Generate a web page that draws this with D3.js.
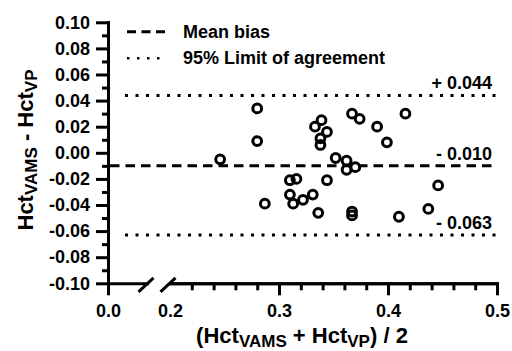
<!DOCTYPE html>
<html>
<head>
<meta charset="utf-8">
<script src="https://cdn.jsdelivr.net/npm/d3@7"></script>
<style>
    body { margin: 0; background: #fff; }
    text { font-family: "Liberation Sans", Arial, sans-serif; font-weight: bold; fill: #000; }
</style>
</head>
<body>
<div id="chart"></div>
<script>
"use strict";

// mean of the two methods (x) and their difference (y)
const meanHct = [0.246, 0.280, 0.280, 0.287, 0.339, 0.333, 0.344, 0.338, 0.338,
    0.367, 0.374, 0.390, 0.399, 0.416, 0.352, 0.362, 0.362, 0.370,
    0.310, 0.316, 0.344, 0.310, 0.313, 0.322, 0.331, 0.336, 0.367, 0.367,
    0.446, 0.437, 0.410];
const diffHct = [-0.005, 0.034, 0.009, -0.039, 0.025, 0.020, 0.016, 0.011, 0.006,
    0.030, 0.026, 0.020, 0.008, 0.030, -0.004, -0.006, -0.013, -0.011,
    -0.021, -0.020, -0.021, -0.032, -0.039, -0.036, -0.032, -0.046, -0.045, -0.048,
    -0.025, -0.043, -0.049];

// bias and limits of agreement
const limitValues = [0.044, -0.010, -0.063];
const limitLabels = ["+ 0.044", "- 0.010", "- 0.063"];
const limitStyles = ["dot", "dash", "dot"];

// tick values
const yMajorTicks = [0.10, 0.08, 0.06, 0.04, 0.02, 0.00, -0.02, -0.04, -0.06, -0.08, -0.10];
const yMinorTicks = [0.09, 0.07, 0.05, 0.03, 0.01, -0.01, -0.03, -0.05, -0.07, -0.09];
const xLeftTicks = [0.0];
const xMajorTicks = [0.3, 0.4, 0.5];
const xLabelTicks = [0.2, 0.3, 0.4, 0.5];
const xMinorTicks = [0.22, 0.24, 0.26, 0.28, 0.32, 0.34, 0.36, 0.38, 0.42, 0.44, 0.46, 0.48];

const legendLabels = ["Mean bias", "95% Limit of agreement"];

const width = 512, height = 351;

const svg = d3.select("#chart").append("svg")
    .attr("width", width)
    .attr("height", height);

// scales (x axis is broken between 0.0 and 0.2)
const y = d3.scaleLinear().domain([-0.10, 0.10]).range([283.3, 22.3]);
const xL = d3.scaleLinear().domain([0, 0.036]).range([108, 147]);
const xR = d3.scaleLinear().domain([0.2, 0.5]).range([170, 497]);

const fmt2 = d => d.toFixed(2);
const fmt1 = d => d.toFixed(1);

function styleAxis(g) {
    g.selectAll("path.domain").attr("stroke-width", 3).attr("stroke-linecap", "square");
    g.selectAll(".tick line").attr("stroke-width", 3);
    g.selectAll(".tick text").style("font-size", "18px").attr("fill", "#000");
}

// y axis: minor ticks first, then major with labels
svg.append("g")
    .attr("transform", "translate(108,0)")
    .call(d3.axisLeft(y).tickValues(yMinorTicks).tickSize(6).tickSizeOuter(0).tickFormat(""))
    .call(styleAxis);
svg.append("g")
    .attr("transform", "translate(108,0)")
    .call(d3.axisLeft(y).tickValues(yMajorTicks).tickSize(12).tickSizeOuter(0).tickPadding(6).tickFormat(fmt2))
    .call(styleAxis);

// x axis, left piece
svg.append("g")
    .attr("transform", "translate(0," + y(-0.10) + ")")
    .call(d3.axisBottom(xL).tickValues(xLeftTicks).tickSize(12).tickSizeOuter(0).tickPadding(9).tickFormat(fmt1))
    .call(styleAxis);

// x axis, right piece
svg.append("g")
    .attr("transform", "translate(0," + y(-0.10) + ")")
    .call(d3.axisBottom(xR).tickValues(xMinorTicks).tickSize(7).tickSizeOuter(0).tickFormat(""))
    .call(styleAxis);
const xMaj = svg.append("g")
    .attr("transform", "translate(0," + y(-0.10) + ")")
    .call(d3.axisBottom(xR).tickValues(xLabelTicks).tickSize(12).tickSizeOuter(0).tickPadding(9).tickFormat(fmt1))
    .call(styleAxis);
// the 0.2 tick sits under the break mark
xMaj.selectAll(".tick").filter(d => xMajorTicks.indexOf(d) < 0).select("line").remove();

// break marks
const breakY = y(-0.10) + 1.5;
[xL.range()[1] - 1, xR(0.2) - 2].forEach(cx => {
    svg.append("line")
        .attr("x1", cx - 7.5).attr("y1", breakY + 7)
        .attr("x2", cx + 7.5).attr("y2", breakY - 7)
        .attr("stroke", "#000").attr("stroke-width", 3);
});

// bias and limit lines
limitValues.forEach((v, i) => {
    const dotted = limitStyles[i] === "dot";
    svg.append("line")
        .attr("x1", dotted ? 125 : 110).attr("x2", xR(0.5))
        .attr("y1", y(v)).attr("y2", y(v))
        .attr("stroke", "#000")
        .attr("stroke-width", dotted ? 3 : 3)
        .attr("stroke-dasharray", dotted ? "3,7.5" : "9.5,6");
    svg.append("text")
        .attr("x", 492).attr("y", y(v) - 6)
        .attr("text-anchor", "end")
        .style("font-size", "18px")
        .text(limitLabels[i]);
});

// data points
svg.append("g")
    .selectAll("circle")
    .data(meanHct)
    .enter()
    .append("circle")
    .attr("cx", d => xR(d))
    .attr("cy", (d, i) => y(diffHct[i]))
    .attr("r", 4.4)
    .attr("fill", "none")
    .attr("stroke", "#000")
    .attr("stroke-width", 3);

// legend
const legend = svg.append("g");
legendLabels.forEach((lab, i) => {
    const ly = 31.7 + i * 26.6;
    legend.append("line")
        .attr("x1", 127).attr("x2", 165)
        .attr("y1", ly).attr("y2", ly)
        .attr("stroke", "#000")
        .attr("stroke-width", i === 0 ? 3 : 2.5)
        .attr("stroke-dasharray", i === 0 ? "9,5.5" : "2.5,7.5");
    legend.append("text")
        .attr("x", 183).attr("y", ly + 6)
        .style("font-size", "18px")
        .text(lab);
});

// axis titles with subscripts
const yTitle = svg.append("text")
    .attr("transform", "translate(33,150) rotate(-90)")
    .attr("text-anchor", "middle")
    .style("font-size", "22px");
yTitle.append("tspan").text("Hct");
yTitle.append("tspan").attr("dy", 4).style("font-size", "17px").text("VAMS");
yTitle.append("tspan").attr("dy", -4).text(" - Hct");
yTitle.append("tspan").attr("dy", 4).style("font-size", "17px").text("VP");

const xTitle = svg.append("text")
    .attr("x", 302).attr("y", 343)
    .attr("text-anchor", "middle")
    .style("font-size", "22px");
xTitle.append("tspan").text("(Hct");
xTitle.append("tspan").attr("dy", 4).style("font-size", "17px").text("VAMS");
xTitle.append("tspan").attr("dy", -4).text(" + Hct");
xTitle.append("tspan").attr("dy", 4).style("font-size", "17px").text("VP");
xTitle.append("tspan").attr("dy", -4).text(") / 2");
</script>
</body>
</html>
